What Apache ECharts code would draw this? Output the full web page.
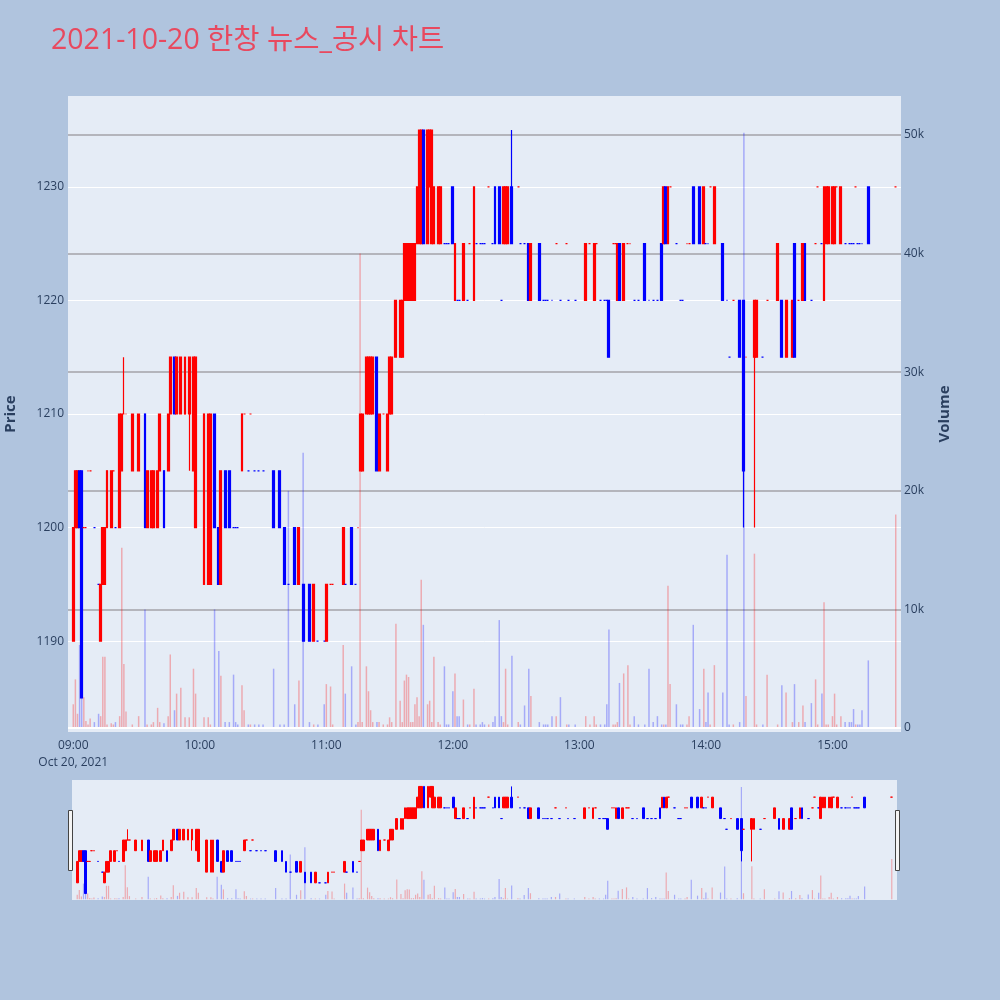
<!DOCTYPE html>
<html><head><meta charset="utf-8">
<script src="https://cdn.jsdelivr.net/npm/echarts/dist/echarts.min.js"></script>
<style>html,body{margin:0;padding:0;background:#B0C4DE}#c{width:1000px;height:1000px}</style>
</head><body><div id="c"></div><script>
// ---- data (minute candles, 2021-10-20) ----
const times = [
 '09:00','09:01','09:02','09:03','09:04','09:05','09:06','09:07','09:08','09:10','09:12','09:13','09:14','09:15','09:16','09:18','09:19','09:20','09:22','09:23','09:24','09:25','09:28','09:31','09:34','09:35','09:37','09:38','09:40','09:41','09:43','09:45','09:46','09:48','09:49','09:51','09:53','09:55','09:57','09:58',
 '10:02','10:04','10:05','10:07','10:09','10:10','10:12','10:14','10:16','10:17','10:18','10:20','10:21','10:23','10:24','10:26','10:28','10:30','10:35','10:38','10:40','10:42','10:45','10:47','10:49','10:52','10:54','10:56','10:59',
 '11:00','11:02','11:03','11:08','11:09','11:12','11:14','11:15','11:16','11:17','11:19','11:20','11:21','11:22','11:24','11:25','11:27','11:29','11:30','11:31','11:33','11:35','11:36','11:37','11:38','11:39','11:40','11:41','11:42','11:43','11:44','11:45','11:46','11:48','11:49','11:50','11:51','11:53','11:54','11:56','11:57','11:58',
 '12:00','12:01','12:02','12:03','12:05','12:07','12:08','12:10','12:11','12:13','12:14','12:15','12:17','12:19','12:20','12:22','12:23','12:24','12:25','12:26','12:28','12:31','12:32','12:34','12:36','12:37','12:41','12:43','12:44','12:45','12:47','12:49','12:51','12:54','12:55','12:58',
 '13:03','13:05','13:07','13:08','13:10','13:12','13:13','13:14','13:16','13:17','13:18','13:19','13:21','13:23','13:24','13:26','13:28','13:31','13:33','13:35','13:37','13:39','13:40','13:41','13:42','13:43','13:46','13:48','13:49','13:51','13:52','13:54','13:57','13:59',
 '14:00','14:01','14:02','14:04','14:08','14:10','14:11','14:13','14:16','14:18','14:19','14:23','14:24','14:27','14:29','14:34','14:36','14:38','14:41','14:42','14:44','14:46','14:47','14:50','14:52','14:53','14:55','14:56','14:57','14:58',
 '15:00','15:01','15:02','15:04','15:06','15:08','15:09','15:10','15:11','15:12','15:13','15:14','15:17','15:30'
];
const open = [
 1190,1200,1200,1205,1205,1200,1200,1205,1205,1200,1195,1190,1195,1195,1200,1200,1205,1200,1200,1205,1210,1210,1205,1205,1210,1200,1200,1200,1200,1205,1205,1205,1210,1215,1210,1210,1210,1210,1205,1200,
 1195,1195,1195,1210,1200,1195,1205,1205,1200,1200,1200,1205,1210,1205,1210,1205,1205,1205,1205,1205,1200,1195,1200,1195,1195,1195,1190,1190,1190,
 1190,1195,1195,1195,1195,1200,1195,1200,1205,1205,1210,1210,1210,1210,1215,1205,1210,1205,1210,1210,1215,1215,1215,1220,1220,1220,1220,1220,1220,1225,1225,1225,1235,1225,1230,1225,1225,1225,1225,1225,1225,1225,
 1230,1220,1220,1220,1220,1220,1225,1220,1225,1225,1225,1225,1230,1225,1230,1230,1220,1225,1225,1225,1230,1230,1225,1225,1225,1220,1225,1220,1220,1220,1220,1225,1220,1225,1220,1220,
 1220,1225,1220,1225,1220,1220,1220,1220,1225,1225,1220,1225,1220,1225,1225,1220,1220,1225,1220,1220,1220,1225,1225,1230,1225,1230,1225,1220,1220,1225,1225,1230,1230,1225,
 1225,1225,1230,1225,1225,1220,1215,1220,1220,1220,1215,1215,1215,1215,1220,1220,1220,1215,1215,1225,1220,1220,1225,1220,1225,1230,1225,1220,1225,1225,
 1225,1225,1230,1225,1225,1225,1225,1225,1230,1225,1225,1225,1230,1230
];
const high = [
 1200,1205,1205,1205,1205,1200,1200,1205,1205,1200,1195,1195,1200,1200,1205,1205,1205,1200,1210,1210,1215,1210,1210,1210,1210,1205,1205,1205,1205,1210,1205,1210,1215,1215,1215,1215,1215,1215,1215,1215,
 1210,1210,1210,1210,1200,1205,1205,1205,1200,1200,1200,1210,1210,1205,1210,1205,1205,1205,1205,1205,1200,1195,1200,1200,1195,1195,1195,1190,1190,
 1195,1195,1195,1200,1195,1200,1195,1200,1210,1210,1215,1215,1215,1215,1215,1210,1210,1210,1215,1215,1220,1220,1220,1225,1225,1225,1225,1225,1225,1230,1235,1235,1235,1235,1235,1235,1230,1230,1230,1225,1225,1225,
 1230,1225,1220,1220,1225,1220,1225,1230,1225,1225,1225,1225,1230,1225,1230,1230,1220,1230,1230,1230,1235,1230,1225,1225,1225,1225,1225,1220,1220,1220,1220,1225,1220,1225,1220,1220,
 1225,1225,1225,1225,1220,1220,1220,1220,1225,1225,1225,1225,1225,1225,1225,1220,1220,1225,1220,1220,1220,1225,1230,1230,1230,1230,1225,1220,1220,1225,1225,1230,1230,1230,
 1225,1225,1230,1230,1225,1220,1215,1220,1220,1220,1215,1220,1220,1215,1220,1225,1220,1220,1220,1225,1220,1225,1225,1220,1225,1230,1225,1230,1230,1230,
 1230,1230,1230,1230,1225,1225,1225,1225,1230,1225,1225,1225,1230,1230
];
const low = [
 1190,1200,1200,1200,1185,1200,1200,1205,1205,1200,1195,1190,1195,1195,1200,1200,1205,1200,1200,1205,1210,1210,1205,1205,1200,1200,1200,1200,1200,1205,1200,1205,1210,1210,1210,1210,1210,1205,1205,1200,
 1195,1195,1195,1200,1195,1195,1200,1200,1200,1200,1200,1205,1210,1205,1210,1205,1205,1205,1200,1200,1195,1195,1195,1195,1190,1190,1190,1190,1190,
 1190,1195,1195,1195,1195,1195,1195,1200,1205,1205,1210,1210,1210,1210,1205,1205,1210,1205,1210,1210,1215,1215,1215,1220,1220,1220,1220,1220,1220,1225,1225,1225,1225,1225,1230,1225,1225,1225,1225,1225,1225,1225,
 1225,1220,1220,1220,1220,1220,1225,1220,1225,1225,1225,1225,1230,1225,1225,1225,1220,1225,1225,1225,1225,1230,1225,1225,1220,1220,1220,1220,1220,1220,1220,1225,1220,1225,1220,1220,
 1220,1225,1220,1225,1220,1220,1220,1215,1225,1225,1220,1220,1220,1225,1225,1220,1220,1220,1220,1220,1220,1220,1225,1225,1225,1230,1225,1220,1220,1225,1225,1225,1225,1225,
 1225,1225,1230,1225,1220,1220,1215,1220,1215,1200,1215,1200,1215,1215,1220,1220,1215,1215,1215,1215,1220,1220,1220,1220,1225,1230,1225,1220,1225,1225,
 1225,1225,1230,1225,1225,1225,1225,1225,1230,1225,1225,1225,1225,1230
];
const close = [
 1200,1205,1205,1200,1185,1200,1200,1205,1205,1200,1195,1195,1200,1200,1205,1205,1205,1200,1210,1210,1210,1210,1210,1210,1200,1205,1205,1205,1205,1210,1200,1210,1215,1210,1215,1215,1215,1215,1215,1215,
 1210,1210,1210,1200,1195,1205,1200,1200,1200,1200,1200,1210,1210,1205,1210,1205,1205,1205,1200,1200,1195,1195,1195,1200,1190,1190,1195,1190,1190,
 1195,1195,1195,1200,1195,1195,1195,1200,1210,1210,1215,1215,1215,1215,1205,1210,1210,1210,1215,1215,1220,1220,1220,1225,1225,1225,1225,1225,1225,1230,1235,1235,1225,1235,1235,1235,1230,1230,1230,1225,1225,1225,
 1225,1225,1220,1220,1225,1220,1225,1230,1225,1225,1225,1225,1230,1225,1225,1225,1220,1230,1230,1230,1225,1230,1225,1225,1220,1225,1220,1220,1220,1220,1220,1225,1220,1225,1220,1220,
 1225,1225,1225,1225,1220,1220,1220,1215,1225,1225,1225,1220,1225,1225,1225,1220,1220,1220,1220,1220,1220,1220,1230,1225,1230,1230,1225,1220,1220,1225,1225,1225,1225,1230,
 1225,1225,1230,1230,1220,1220,1215,1220,1215,1205,1215,1220,1220,1215,1220,1225,1215,1220,1220,1215,1220,1225,1220,1220,1225,1230,1225,1230,1230,1230,
 1230,1230,1230,1230,1225,1225,1225,1225,1230,1225,1225,1225,1225,1230
];
// volume in thousands of shares
const volume = [
 2.0,4.1,1.2,7.0,4.2,2.6,0.6,0.3,0.8,0.5,1.2,1.0,6.0,6.0,0.3,0.4,0.3,0.5,1.0,15.2,5.4,1.4,0.3,1.0,10.0,0.3,0.3,0.5,1.7,0.5,0.4,1.0,6.2,1.5,2.9,3.4,0.9,0.9,5.0,2.9,
 0.9,0.9,0.3,10.0,6.5,4.4,0.5,0.5,4.5,0.5,0.3,3.6,1.5,0.3,0.3,0.3,0.3,0.3,5.0,0.3,0.3,20.0,2.0,4.0,23.2,0.5,0.3,0.3,2.0,
 3.7,3.5,0.3,7.0,2.9,5.2,0.3,0.5,40.0,0.5,5.2,3.1,1.5,0.5,0.5,0.5,0.3,0.3,0.9,0.5,8.8,2.3,0.5,4.0,4.5,4.3,0.5,0.5,2.0,2.6,1.0,12.5,8.7,2.0,2.3,0.5,6.0,0.5,0.3,5.2,0.3,0.3,
 3.1,4.6,1.0,1.0,2.4,0.3,0.3,3.3,0.3,0.3,0.5,0.3,0.3,0.5,1.0,9.1,1.0,0.5,5.0,0.3,6.1,0.5,0.3,1.9,5.0,2.7,0.5,0.3,0.3,0.3,1.0,1.0,2.6,0.3,0.3,0.3,
 1.0,0.3,1.0,0.3,0.3,0.3,2.0,8.3,0.3,0.3,0.5,3.8,4.6,5.3,0.3,1.0,0.3,0.3,5.0,0.5,1.0,0.3,0.3,0.3,12.0,3.7,2.0,0.3,0.3,0.3,1.0,8.7,1.6,5.0,
 0.5,3.0,0.3,5.3,3.0,14.6,0.3,0.3,0.5,50.2,2.7,14.7,0.3,0.3,4.5,0.3,3.6,3.0,0.5,3.7,0.5,1.9,0.5,2.1,4.1,0.3,2.9,10.6,0.3,0.3,
 1.0,2.9,0.3,1.0,0.5,0.5,0.5,1.6,0.3,0.3,0.3,1.5,5.7,18.0
];
const priceTicks = [1190, 1200, 1210, 1220, 1230];
const volumeTicks = [0, 10, 20, 30, 40, 50];

// ---- build ----
const UP = '#FF0000', DOWN = '#0000FF';
const UPV = 'rgba(255,0,0,0.28)', DOWNV = 'rgba(0,0,255,0.28)';
const cats = [];
for (let t = 8 * 60 + 58; t <= 15 * 60 + 32; t++) {
  cats.push(String(Math.floor(t / 60)).padStart(2, '0') + ':' + String(t % 60).padStart(2, '0'));
}
const candleData = cats.map(() => ['-', '-', '-', '-']);
const volData = cats.map(() => '-');
let prevC = null, prevDir = 1;
times.forEach((t, i) => {
  const idx = cats.indexOf(t);
  const o = open[i], c = close[i];
  let dir = c > o ? 1 : c < o ? -1 : (prevC === null ? 1 : c > prevC ? 1 : c < prevC ? -1 : prevDir);
  prevC = c; prevDir = dir;
  const col = dir > 0 ? UP : DOWN;
  candleData[idx] = { value: [o, c, low[i], high[i]], itemStyle: { color: col, color0: col, borderColor: col, borderColor0: col } };
  volData[idx] = { value: volume[i], itemStyle: { color: dir > 0 ? UPV : DOWNV } };
});

const TXT = '#2a3f5f';
const FONT = '"Open Sans", "Noto Sans CJK KR", "DejaVu Sans", sans-serif';
const chart = echarts.init(document.getElementById('c'), null, { renderer: 'canvas' });
chart.setOption({
  animation: false,
  backgroundColor: '#B0C4DE',
  textStyle: { fontFamily: FONT },
  title: {
    text: '2021-10-20 한창 뉴스_공시 차트', left: 46, top: 22,
    textStyle: { color: '#E8495F', fontSize: 28.5, fontWeight: 'normal', fontFamily: FONT }
  },
  grid: [
    { left: 68, right: 99, top: 96, bottom: 268, show: true, backgroundColor: '#E5ECF6', borderWidth: 0, containLabel: false, outerBoundsMode: 'none' },
    { left: 72, right: 103, top: 780, bottom: 100, show: true, backgroundColor: '#E5ECF6', borderWidth: 0, containLabel: false, outerBoundsMode: 'none' }
  ],
  xAxis: [
    { type: 'category', gridIndex: 0, data: cats, boundaryGap: true,
      axisLine: { show: false }, axisTick: { show: false }, splitLine: { show: false },
      axisLabel: { color: TXT, fontSize: 12, margin: 5, lineHeight: 17,
        interval: (i, v) => v.endsWith(':00'),
        formatter: v => v === '09:00' ? '09:00\nOct 20, 2021' : v } },
    { type: 'category', gridIndex: 1, data: cats, boundaryGap: true, show: false }
  ],
  yAxis: [
    { type: 'value', gridIndex: 0, position: 'left', min: 1182, max: 1238, scale: true,
      name: 'Price', nameLocation: 'middle', nameGap: 50, nameRotate: 90,
      nameTextStyle: { color: TXT, fontSize: 15, fontWeight: 'bold' },
      axisLine: { show: false }, axisTick: { show: false },
      axisLabel: { color: TXT, fontSize: 12, margin: 4, showMinLabel: false, showMaxLabel: false,
        formatter: v => priceTicks.includes(v) ? String(v) : '' },
      splitLine: { show: true, showMinLine: false, showMaxLine: false, lineStyle: { color: '#ffffff', width: 1 } } },
    { type: 'value', gridIndex: 0, position: 'right', min: -0.337, max: 53.29,
      name: 'Volume', nameLocation: 'middle', nameGap: 36, nameRotate: 90,
      nameTextStyle: { color: TXT, fontSize: 15, fontWeight: 'bold' },
      axisLine: { show: false }, axisTick: { show: false },
      axisLabel: { color: TXT, fontSize: 12, margin: 3, showMinLabel: false, showMaxLabel: false,
        formatter: v => volumeTicks.includes(v) ? (v === 0 ? '0' : v + 'k') : '' },
      splitLine: { show: true, showMinLine: false, showMaxLine: false, lineStyle: { color: '#a3a3a8', width: 1.5 } } },
    { type: 'value', gridIndex: 1, min: 1182, max: 1238, show: false, splitLine: { show: false } },
    { type: 'value', gridIndex: 1, min: -0.337, max: 53.29, show: false, splitLine: { show: false } }
  ],
  series: [
    { type: 'bar', xAxisIndex: 0, yAxisIndex: 1, data: volData, barWidth: 1.5, z: 1,
      markLine: { silent: true, symbol: 'none', label: { show: false },
        lineStyle: { color: '#ffffff', width: 2, type: 'solid' }, data: [{ yAxis: 0 }] } },
    { type: 'candlestick', xAxisIndex: 0, yAxisIndex: 0, data: candleData, barWidth: 2.4, z: 3,
      itemStyle: { color: UP, color0: DOWN, borderColor: UP, borderColor0: DOWN, borderWidth: 1.2 } },
    { type: 'bar', xAxisIndex: 1, yAxisIndex: 3, data: volData, barWidth: 1.2, z: 1 },
    { type: 'candlestick', xAxisIndex: 1, yAxisIndex: 2, data: candleData, barWidth: 2.2, z: 3,
      itemStyle: { color: UP, color0: DOWN, borderColor: UP, borderColor0: DOWN, borderWidth: 1 } }
  ],
  graphic: [
    { type: 'rect', shape: { x: 68.5, y: 810.5, width: 4, height: 60 }, style: { fill: '#f5f5f5', stroke: '#444', lineWidth: 1 }, z: 10 },
    { type: 'rect', shape: { x: 895.5, y: 810.5, width: 4, height: 60 }, style: { fill: '#f5f5f5', stroke: '#444', lineWidth: 1 }, z: 10 }
  ]
});
</script></body></html>
